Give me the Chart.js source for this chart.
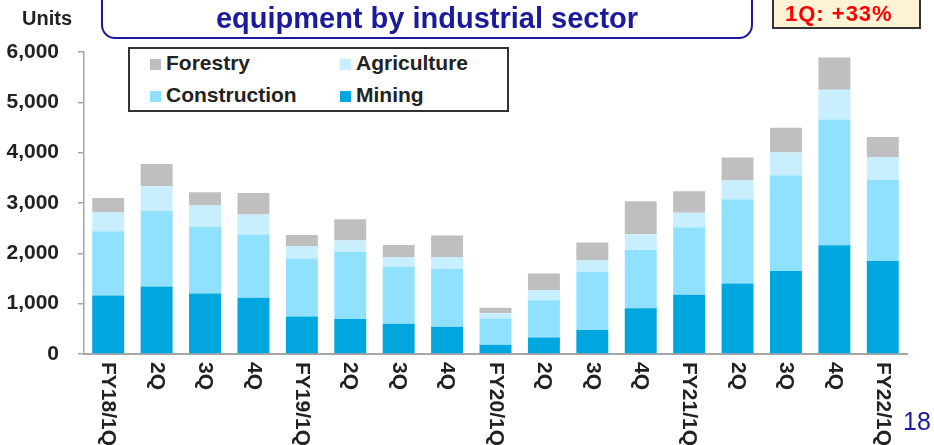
<!DOCTYPE html>
<html>
<head>
<meta charset="utf-8">
<script src="https://cdn.jsdelivr.net/npm/chart.js@4/dist/chart.umd.min.js"></script>
<style>
  body { margin: 0; background: #fff; font-family: "Liberation Sans", Arial, sans-serif; }
  #wrap { position: relative; width: 934px; height: 445px; overflow: hidden; }
  #chart { position: absolute; left: 0; top: 0; }
  .txt { position: absolute; white-space: nowrap; }
  #title-box { position: absolute; left: 101px; top: -20px; width: 648px; height: 55px;
    border: 2px solid #1a1a9a; border-radius: 14px; background: #fff; }
  #title { left: 101px; width: 652px; top: 4px; text-align: center; font: bold 29px/29px "Liberation Sans", Arial, sans-serif; color: #1a1a9a; }
  #units { left: 22px; top: 8px; font: bold 20px/20px "Liberation Sans", Arial, sans-serif; color: #222; }
  #badge { position: absolute; left: 772px; top: -10px; width: 145px; height: 35px;
    border: 2px solid #333; background: #fff3d6; }
  #badge-text { left: 785px; top: 3px; font: bold 22px/22px "Liberation Sans", Arial, sans-serif; color: #ff0000; letter-spacing: 1px; }
  #legend { position: absolute; left: 128px; top: 47px; width: 377px; height: 61px; border: 2px solid #333; background: #fff; }
  .sw { position: absolute; width: 11px; height: 11px; }
  .lg { font: bold 21px/21px "Liberation Sans", Arial, sans-serif; color: #222; }
  #page { left: 903px; top: 409px; font: 25px/25px "Liberation Sans", Arial, sans-serif; color: #1a1a9a; }
</style>
</head>
<body>
<div id="wrap">
  <canvas id="chart" width="934" height="445"></canvas>
  <div id="title-box"></div>
  <div class="txt" id="title">equipment by industrial sector</div>
  <div class="txt" id="units">Units</div>
  <div id="badge"></div>
  <div class="txt" id="badge-text">1Q: +33%</div>
  <div id="legend"></div>
  <div class="txt" id="page">18</div>
</div>
<script>
// quarterly units by sector, stacked bottom to top: mining, construction, agriculture, forestry
const categories = ["FY18/1Q", "2Q", "3Q", "4Q", "FY19/1Q", "2Q", "3Q", "4Q", "FY20/1Q", "2Q", "3Q", "4Q", "FY21/1Q", "2Q", "3Q", "4Q", "FY22/1Q"];
const mining = [1160, 1340, 1200, 1120, 745, 695, 600, 540, 185, 330, 475, 910, 1175, 1400, 1650, 2160, 1850];
const construction = [1280, 1500, 1330, 1255, 1150, 1330, 1130, 1155, 520, 740, 1160, 1155, 1345, 1675, 1900, 2500, 1610];
const agriculture = [370, 495, 420, 395, 250, 230, 185, 230, 105, 200, 225, 315, 285, 370, 455, 590, 455];
const forestry = [290, 440, 265, 430, 220, 420, 250, 430, 110, 330, 355, 655, 430, 460, 490, 640, 395];
const yTicks = [0, 1000, 2000, 3000, 4000, 5000, 6000];

const COLORS = {
  Mining: "#00a7df",
  Construction: "#8fe1ff",
  Agriculture: "#c8efff",
  Forestry: "#bfbfbf"
};

const FONT = "'Liberation Sans', Arial, sans-serif";

// legend in the same 2x2 layout as the slide
const legendItems = [
  { name: "Forestry", col: 0, row: 0 },
  { name: "Agriculture", col: 1, row: 0 },
  { name: "Construction", col: 0, row: 1 },
  { name: "Mining", col: 1, row: 1 }
];
const wrap = document.getElementById("wrap");
legendItems.forEach((it) => {
  const sx = it.col ? 340 : 150;
  const sy = it.row ? 90.5 : 58.5;
  const sw = document.createElement("div");
  sw.className = "sw";
  sw.style.left = sx + "px";
  sw.style.top = sy + "px";
  sw.style.background = COLORS[it.name];
  wrap.appendChild(sw);
  const t = document.createElement("div");
  t.className = "txt lg";
  t.textContent = it.name;
  t.style.left = (sx + 16) + "px";
  t.style.top = (sy + 11 - 17.8) + "px";
  wrap.appendChild(t);
});

// x labels read top to bottom, which Chart.js does not do, so draw them here
const rotatedLabels = {
  id: "rotatedLabels",
  afterDraw(chart) {
    const ctx = chart.ctx;
    const xs = chart.scales.x;
    ctx.save();
    ctx.font = "bold 21px " + FONT;
    ctx.fillStyle = "#222";
    ctx.textAlign = "left";
    ctx.textBaseline = "middle";
    categories.forEach((lab, i) => {
      ctx.save();
      ctx.translate(xs.getPixelForTick(i), chart.chartArea.bottom + 8);
      ctx.rotate(Math.PI / 2);
      ctx.fillText(lab, 0, 0);
      ctx.restore();
    });
    ctx.restore();
  }
};

const series = [
  ["Mining", mining],
  ["Construction", construction],
  ["Agriculture", agriculture],
  ["Forestry", forestry]
];

new Chart(document.getElementById("chart").getContext("2d"), {
  type: "bar",
  data: {
    labels: categories,
    datasets: series.map(([name, vals]) => ({
      label: name,
      data: vals,
      backgroundColor: COLORS[name],
      borderWidth: 0,
      barPercentage: 0.66,
      categoryPercentage: 1.0
    }))
  },
  options: {
    responsive: false,
    animation: false,
    devicePixelRatio: 1,
    layout: { padding: { top: 52, right: 27, left: 0, bottom: 0 } },
    plugins: {
      legend: { display: false },
      tooltip: { enabled: false }
    },
    scales: {
      x: {
        stacked: true,
        grid: { display: false },
        border: { display: true, color: "#a6a6a6", width: 2 },
        ticks: { display: false },
        afterFit: (s) => { s.height = 91; }
      },
      y: {
        stacked: true,
        min: 0,
        max: 6000,
        afterBuildTicks: (s) => { s.ticks = yTicks.map((v) => ({ value: v })); },
        grid: { drawOnChartArea: false, drawTicks: true, tickLength: 6, color: "#a6a6a6", lineWidth: 1.5 },
        border: { display: true, color: "#a6a6a6", width: 1.5 },
        ticks: {
          padding: 19,
          color: "#222",
          font: { family: FONT, size: 21, weight: "bold" },
          callback: (v) => Number(v).toLocaleString("en-US")
        },
        afterFit: (s) => { s.width = 84; }
      }
    }
  },
  plugins: [rotatedLabels]
});
</script>
</body>
</html>
